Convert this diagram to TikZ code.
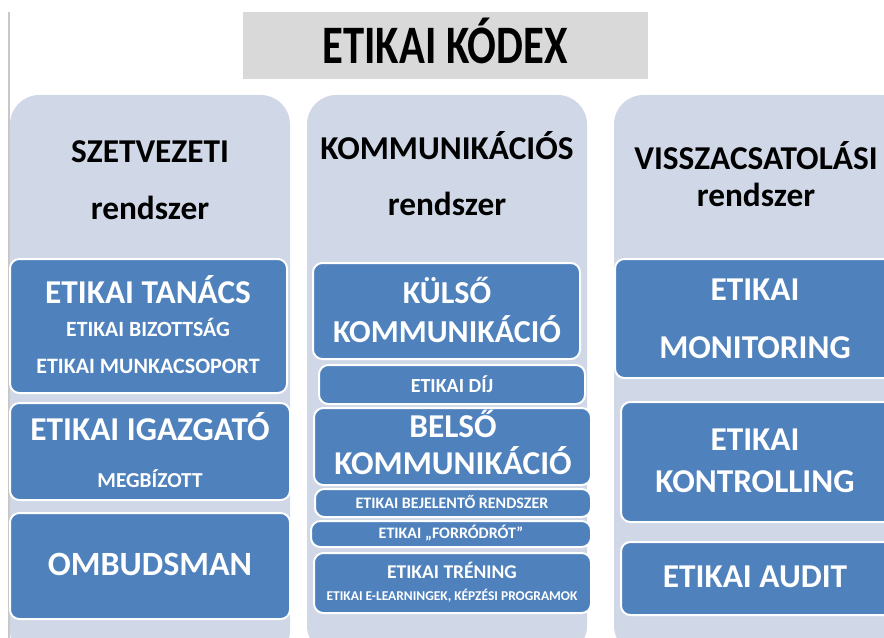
\documentclass[tikz,border=0pt]{standalone}
\usepackage{fontspec}
\setmainfont{Carlito}
\usetikzlibrary{fit}
\definecolor{colbg}{RGB}{208,216,232}
\definecolor{boxblue}{RGB}{79,129,189}
\definecolor{titlegrey}{RGB}{217,217,217}
\definecolor{edgegrey}{RGB}{200,200,200}
\begin{document}
\begin{tikzpicture}[x=0.75pt,y=-0.75pt,
  colbox/.style={fill=colbg, draw=none, rounded corners=22pt, inner sep=0pt},
  titlebox/.style={fill=titlegrey, draw=none, inner sep=0pt},
  bluebox/.style={fill=boxblue, draw=white, line width=1.5pt, rounded corners=7pt, inner sep=0pt},
  btxt/.style={anchor=base, inner sep=0pt, text=black, font=\bfseries\fontsize{#1}{#1}\selectfont},
  wtxt/.style={anchor=base, inner sep=0pt, text=white, font=\bfseries\fontsize{#1}{#1}\selectfont},
]
\useasboundingbox (0,0) rectangle (884,638);
\clip (0,0) rectangle (884,638);

% left edge line
\draw[edgegrey, line width=1pt] (9,12) -- (9,638);

% title
\node[titlebox, fit={(243,12) (648,79)}] (title) {};
\node[btxt=32pt] (titletext) at (445,64) {\scalebox{1}[1.27]{ETIKAI KÓDEX}};

% columns
\node[colbox, fit={(10,95) (290,660)}] (col1) {};
\node[colbox, fit={(307,95) (587,655)}] (col2) {};
\node[colbox, fit={(614,95) (910,655)}] (col3) {};

% headers
\node[btxt=25pt] (h1a) at (150,162) {SZETVEZETI};
\node[btxt=25pt] (h1b) at (150,219) {rendszer};
\node[btxt=25pt] (h2a) at (447,160) {KOMMUNIKÁCIÓS};
\node[btxt=25pt] (h2b) at (447,215) {rendszer};
\node[btxt=25pt] (h3a) at (756,169) {VISSZACSATOLÁSI};
\node[btxt=25pt] (h3b) at (756,206) {rendszer};

% column 1
\node[bluebox, fit={(10,259) (287,393)}] (tanacs) {};
\node[wtxt=25pt] (tanacs1) at (148,303) {ETIKAI TANÁCS};
\node[wtxt=16.3pt] (tanacs2) at (148,336) {ETIKAI BIZOTTSÁG};
\node[wtxt=16.5pt] (tanacs3) at (148,373) {ETIKAI MUNKACSOPORT};

\node[bluebox, fit={(10,403) (290,500)}] (igazgato) {};
\node[wtxt=25pt] (igazgato1) at (150,440) {ETIKAI IGAZGATÓ};
\node[wtxt=16pt] (igazgato2) at (150,487) {MEGBÍZOTT};

\node[bluebox, fit={(10,513) (290,619)}] (ombuds) {};
\node[wtxt=25.5pt] (ombuds1) at (150,575) {OMBUDSMAN};

% column 2
\node[bluebox, fit={(313,263) (580,359)}] (kulso) {};
\node[wtxt=24pt] (kulso1) at (447,303) {KÜLSŐ};
\node[wtxt=24pt] (kulso2) at (447,342) {KOMMUNIKÁCIÓ};

\node[bluebox, fit={(319,365) (585,404)}] (dij) {};
\node[wtxt=15pt] (dij1) at (452,392) {ETIKAI DÍJ};

\node[bluebox, fit={(314,408) (591,485)}] (belso) {};
\node[wtxt=25pt] (belso1) at (453,437) {BELSŐ};
\node[wtxt=25pt] (belso2) at (453,474) {KOMMUNIKÁCIÓ};

\node[bluebox, fit={(315,489) (591,517)}] (bejel) {};
\node[wtxt=12pt] (bejel1) at (452,508) {ETIKAI BEJELENTŐ RENDSZER};

\node[bluebox, fit={(311,521) (591,547)}] (forro) {};
\node[wtxt=12pt] (forro1) at (451,538) {ETIKAI „FORRÓDRÓT”};

\node[bluebox, fit={(314,553) (591,613)}] (trening) {};
\node[wtxt=14.6pt] (trening1) at (452,578) {ETIKAI TRÉNING};
\node[wtxt=10.1pt] (trening2) at (452,600) {ETIKAI E-LEARNINGEK, KÉPZÉSI PROGRAMOK};

% column 3
\node[bluebox, fit={(615,259) (900,378)}] (monitor) {};
\node[wtxt=25pt] (monitor1) at (755,300) {ETIKAI};
\node[wtxt=25pt] (monitor2) at (755,358) {MONITORING};

\node[bluebox, fit={(621,402) (900,522)}] (kontroll) {};
\node[wtxt=25pt] (kontroll1) at (755,450) {ETIKAI};
\node[wtxt=25pt] (kontroll2) at (755,492) {KONTROLLING};

\node[bluebox, fit={(621,542) (900,615)}] (audit) {};
\node[wtxt=25pt] (audit1) at (755,587) {ETIKAI AUDIT};
\end{tikzpicture}
\end{document}
